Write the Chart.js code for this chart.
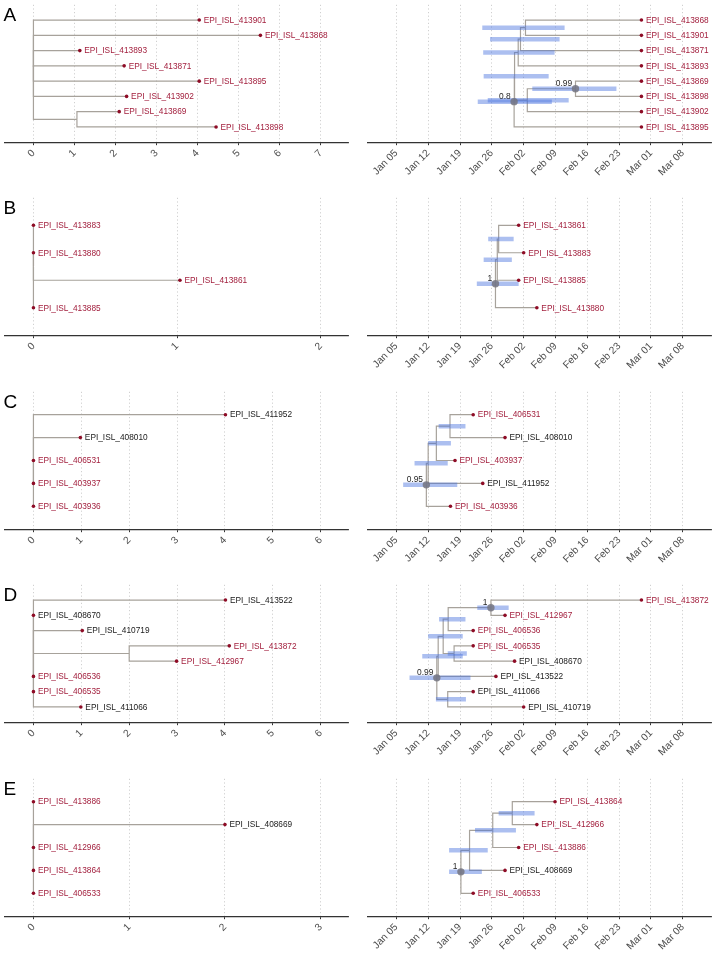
<!DOCTYPE html>
<html>
<head>
<meta charset="utf-8">
<script src="https://cdn.jsdelivr.net/npm/chart.js@4.4.1/dist/chart.umd.min.js"></script>
<style>
    html, body { margin: 0; padding: 0; background: #fff; }
    #wrap { position: relative; width: 715px; height: 955px; }
    canvas { position: absolute; }
</style>
</head>
<body>
<div id="wrap"></div>
<script>
// sequences drawn with black labels (all others are red)
const blackTips = ['EPI_ISL_408010', 'EPI_ISL_411952', 'EPI_ISL_413522', 'EPI_ISL_408670',
    'EPI_ISL_410719', 'EPI_ISL_411066', 'EPI_ISL_408669'];

// left panels: divergence axis ticks
const divTicksA = [0, 1, 2, 3, 4, 5, 6, 7];
const divTicksB = [0, 1, 2];
const divTicksC = [0, 1, 2, 3, 4, 5, 6];
const divTicksD = [0, 1, 2, 3, 4, 5, 6];
const divTicksE = [0, 1, 2, 3];

// right panels: dates as days since 2020-01-01
const dateTicks = [4, 11, 18, 25, 32, 39, 46, 53, 60, 67];
const dateTickLabels = ['Jan 05', 'Jan 12', 'Jan 19', 'Jan 26', 'Feb 02', 'Feb 09', 'Feb 16', 'Feb 23', 'Mar 01', 'Mar 08'];
const dateRange = [-2.3, 73.2];

// divergence trees: [node, parent, divergence]; tips listed top to bottom
const divTreeA = [
    ['root', null, 0],
    ['EPI_ISL_413901', 'root', 4.04],
    ['EPI_ISL_413868', 'root', 5.53],
    ['EPI_ISL_413893', 'root', 1.13],
    ['EPI_ISL_413871', 'root', 2.21],
    ['EPI_ISL_413895', 'root', 4.04],
    ['EPI_ISL_413902', 'root', 2.27],
    ['n1', 'root', 1.06],
    ['EPI_ISL_413869', 'n1', 2.09],
    ['EPI_ISL_413898', 'n1', 4.45]
];
const divTreeB = [
    ['root', null, 0],
    ['EPI_ISL_413883', 'root', 0],
    ['EPI_ISL_413880', 'root', 0],
    ['EPI_ISL_413861', 'root', 1.02],
    ['EPI_ISL_413885', 'root', 0]
];
const divTreeC = [
    ['root', null, 0],
    ['EPI_ISL_411952', 'root', 4.01],
    ['EPI_ISL_408010', 'root', 0.98],
    ['EPI_ISL_406531', 'root', 0],
    ['EPI_ISL_403937', 'root', 0],
    ['EPI_ISL_403936', 'root', 0]
];
const divTreeD = [
    ['root', null, 0],
    ['EPI_ISL_413522', 'root', 4.01],
    ['EPI_ISL_408670', 'root', 0],
    ['EPI_ISL_410719', 'root', 1.02],
    ['r1', 'root', 2.0],
    ['EPI_ISL_413872', 'r1', 4.09],
    ['EPI_ISL_412967', 'r1', 2.99],
    ['EPI_ISL_406536', 'root', 0],
    ['EPI_ISL_406535', 'root', 0],
    ['EPI_ISL_411066', 'root', 0.99]
];
const divTreeE = [
    ['root', null, 0],
    ['EPI_ISL_413886', 'root', 0],
    ['EPI_ISL_408669', 'root', 2.0],
    ['EPI_ISL_412966', 'root', 0],
    ['EPI_ISL_413864', 'root', 0],
    ['EPI_ISL_406533', 'root', 0]
];

// time trees: [node, parent, date, 95% HPD low, HPD high, posterior]
const timeTreeA = [
    ['root', null, 29.9, 21.9, 38.2, 0.8],
    ['x1', 'root', 30.0, 23.2, 37.5],
    ['n3', 'x1', 30.8, 23.1, 38.8],
    ['n2', 'n3', 31.3, 24.6, 39.9],
    ['n1', 'n2', 32.4, 22.9, 41.0],
    ['EPI_ISL_413868', 'n1', 57.9],
    ['EPI_ISL_413901', 'n1', 57.9],
    ['EPI_ISL_413871', 'n2', 57.9],
    ['EPI_ISL_413893', 'n3', 57.9],
    ['n5', 'x1', 32.8, 24.1, 41.9],
    ['n4', 'n5', 43.4, 33.9, 52.4, 0.99],
    ['EPI_ISL_413869', 'n4', 57.9],
    ['EPI_ISL_413898', 'n4', 57.9],
    ['EPI_ISL_413902', 'n5', 57.9],
    ['EPI_ISL_413895', 'root', 57.9]
];
const timeTreeB = [
    ['root', null, 25.8, 21.7, 30.9, 1],
    ['p2', 'root', 26.2, 23.2, 29.4],
    ['p1', 'p2', 26.5, 24.2, 29.8],
    ['EPI_ISL_413861', 'p1', 30.9],
    ['EPI_ISL_413883', 'p1', 32.0],
    ['EPI_ISL_413885', 'p2', 30.9],
    ['EPI_ISL_413880', 'root', 34.9]
];
const timeTreeC = [
    ['root', null, 10.6, 5.5, 17.4, 0.95],
    ['q3', 'root', 11.0, 8.0, 15.3],
    ['q2', 'q3', 12.8, 11.0, 16.0],
    ['q1', 'q2', 15.8, 13.3, 19.2],
    ['EPI_ISL_406531', 'q1', 20.9],
    ['EPI_ISL_408010', 'q1', 27.9],
    ['EPI_ISL_403937', 'q2', 16.9],
    ['EPI_ISL_411952', 'q3', 23.0],
    ['EPI_ISL_403936', 'root', 15.9]
];
const timeTreeD = [
    ['root', null, 12.9, 6.9, 20.3, 0.99],
    ['s5', 'root', 13.2, 9.7, 18.6],
    ['s4', 's5', 14.3, 11.0, 18.6],
    ['s2', 's4', 15.4, 13.4, 19.2],
    ['s1', 's2', 24.8, 21.8, 28.7, 1],
    ['EPI_ISL_413872', 's1', 57.9],
    ['EPI_ISL_412967', 's1', 27.9],
    ['EPI_ISL_406536', 's2', 20.9],
    ['s3', 's4', 16.7, 15.3, 19.5],
    ['EPI_ISL_406535', 's3', 20.9],
    ['EPI_ISL_408670', 's3', 30.0],
    ['EPI_ISL_413522', 's5', 25.9],
    ['s6', 'root', 15.3, 12.7, 19.3],
    ['EPI_ISL_411066', 's6', 20.9],
    ['EPI_ISL_410719', 's6', 32.0]
];
const timeTreeE = [
    ['root', null, 18.2, 15.6, 22.8, 1],
    ['t3', 'root', 20.1, 15.6, 24.1],
    ['t2', 't3', 25.2, 21.3, 30.3],
    ['t1', 't2', 29.5, 26.5, 34.4],
    ['EPI_ISL_413864', 't1', 38.9],
    ['EPI_ISL_412966', 't1', 34.9],
    ['EPI_ISL_413886', 't2', 30.9],
    ['EPI_ISL_408669', 't3', 27.9],
    ['EPI_ISL_406533', 'root', 20.9]
];

const rows = [
    { letter: 'A', div: divTreeA, ticks: divTicksA, time: timeTreeA },
    { letter: 'B', div: divTreeB, ticks: divTicksB, time: timeTreeB },
    { letter: 'C', div: divTreeC, ticks: divTicksC, time: timeTreeC },
    { letter: 'D', div: divTreeD, ticks: divTicksD, time: timeTreeD },
    { letter: 'E', div: divTreeE, ticks: divTicksE, time: timeTreeE }
];

const BRANCH = '#a7a29b';
const RED_TEXT = '#a3213f';
const RED_DOT = '#8e0c26';
const BLACK_TEXT = '#1a1a1a';
const BAR = 'rgba(72, 112, 222, 0.45)';
const NODE = 'rgba(118, 118, 128, 0.85)';
const FONT = '"Liberation Sans", Arial, sans-serif';
const ROW_H = 193.4;

// tips get rows 1..n in listed order, inner nodes sit at the mean of their children
function layoutTree(list) {
    const nodes = list.map(r => ({ name: r[0], parent: r[1], x: r[2], lo: r[3], hi: r[4], post: r[5], kids: [] }));
    const byName = {};
    nodes.forEach(n => byName[n.name] = n);
    nodes.forEach(n => { if (n.parent) { n.p = byName[n.parent]; n.p.kids.push(n); } });
    let k = 0;
    nodes.forEach(n => { if (!n.kids.length) n.y = ++k; });
    const yOf = n => n.y !== undefined ? n.y : (n.y = n.kids.reduce((s, c) => s + yOf(c), 0) / n.kids.length);
    nodes.forEach(yOf);
    return { nodes, nTips: k };
}

const wrap = document.getElementById('wrap');

function drawPanel(cfg) {
    const canvas = document.createElement('canvas');
    canvas.width = cfg.width;
    canvas.height = 193;
    canvas.style.left = cfg.left + 'px';
    canvas.style.top = cfg.top + 'px';
    wrap.appendChild(canvas);

    const { nodes, nTips } = layoutTree(cfg.tree);
    const tips = nodes.filter(n => !n.kids.length);
    const datasets = [];

    nodes.filter(n => n.p).forEach(n => datasets.push({
        data: [{ x: n.p.x, y: n.p.y }, { x: n.p.x, y: n.y }, { x: n.x, y: n.y }],
        showLine: true, borderColor: BRANCH, borderWidth: 1.2, pointRadius: 0, order: 5
    }));
    nodes.filter(n => n.lo !== undefined).forEach(n => datasets.push({
        data: [{ x: n.lo, y: n.y }, { x: n.hi, y: n.y }],
        showLine: true, borderColor: BAR, borderWidth: 4.5, borderCapStyle: 'butt', pointRadius: 0, order: 4
    }));
    datasets.push({
        data: tips.map(n => ({ x: n.x, y: n.y })),
        pointRadius: 1.8, backgroundColor: RED_DOT, borderWidth: 0, order: 2
    });
    const posts = nodes.filter(n => n.post !== undefined);
    if (posts.length) {
        datasets.push({
            data: posts.map(n => ({ x: n.x, y: n.y })),
            pointRadius: 3.7, backgroundColor: NODE, borderWidth: 0, order: 1
        });
    }

    const labels = {
        id: 'treeLabels',
        afterDatasetsDraw(chart) {
            const { ctx, scales: { x, y } } = chart;
            ctx.save();
            ctx.font = '8.3px ' + FONT;
            ctx.textAlign = 'left';
            ctx.textBaseline = 'middle';
            tips.forEach(n => {
                ctx.fillStyle = blackTips.includes(n.name) ? BLACK_TEXT : RED_TEXT;
                ctx.fillText(n.name, x.getPixelForValue(n.x) + 4.5, y.getPixelForValue(n.y) + 0.5);
            });
            ctx.font = '8.4px ' + FONT;
            ctx.textAlign = 'right';
            ctx.textBaseline = 'alphabetic';
            ctx.fillStyle = '#262626';
            posts.forEach(n => {
                ctx.fillText(String(n.post), x.getPixelForValue(n.x) - 3.4, y.getPixelForValue(n.y) - 2.6);
            });
            if (cfg.letter) {
                ctx.font = '19px ' + FONT;
                ctx.textAlign = 'left';
                ctx.fillStyle = '#000';
                ctx.fillText(cfg.letter, 3.5, 20.8);
            }
            ctx.restore();
        }
    };

    new Chart(canvas, {
        type: 'scatter',
        data: { datasets },
        options: {
            responsive: false,
            animation: false,
            events: [],
            layout: { padding: { left: cfg.padL, right: cfg.padR, top: 4.8, bottom: 0 } },
            plugins: { legend: { display: false }, tooltip: { enabled: false } },
            scales: {
                x: {
                    type: 'linear',
                    min: cfg.min,
                    max: cfg.max,
                    afterBuildTicks: s => { s.ticks = cfg.ticks.map(v => ({ value: v })); },
                    afterFit: s => { s.height = 50.8; },
                    grid: { color: '#c4c4c4', lineWidth: 0.8, tickColor: '#333', tickLength: 3, tickWidth: 1 },
                    border: { color: '#333', width: 1.2, dash: [1.2, 2.4] },
                    ticks: {
                        minRotation: 45, maxRotation: 45, autoSkip: false, padding: 2,
                        color: '#4d4d4d', font: { family: FONT, size: 10.2 },
                        callback: cfg.tickLabel
                    }
                },
                y: { type: 'linear', display: false, reverse: true, min: 0, max: nTips + 1 }
            }
        },
        plugins: [labels]
    });
}

rows.forEach((r, i) => {
    const top = Math.round(ROW_H * i);
    const m = r.ticks[r.ticks.length - 1];
    drawPanel({
        left: 0, width: 357, top, padL: 5, padR: 8.7, letter: r.letter,
        tree: r.div, ticks: r.ticks, min: -0.099 * m, max: 1.096 * m,
        tickLabel: v => String(v)
    });
    drawPanel({
        left: 357, width: 358, top, padL: 10.7, padR: 3.3,
        tree: r.time, ticks: dateTicks, min: dateRange[0], max: dateRange[1],
        tickLabel: v => dateTickLabels[dateTicks.indexOf(v)]
    });
});
</script>
</body>
</html>
